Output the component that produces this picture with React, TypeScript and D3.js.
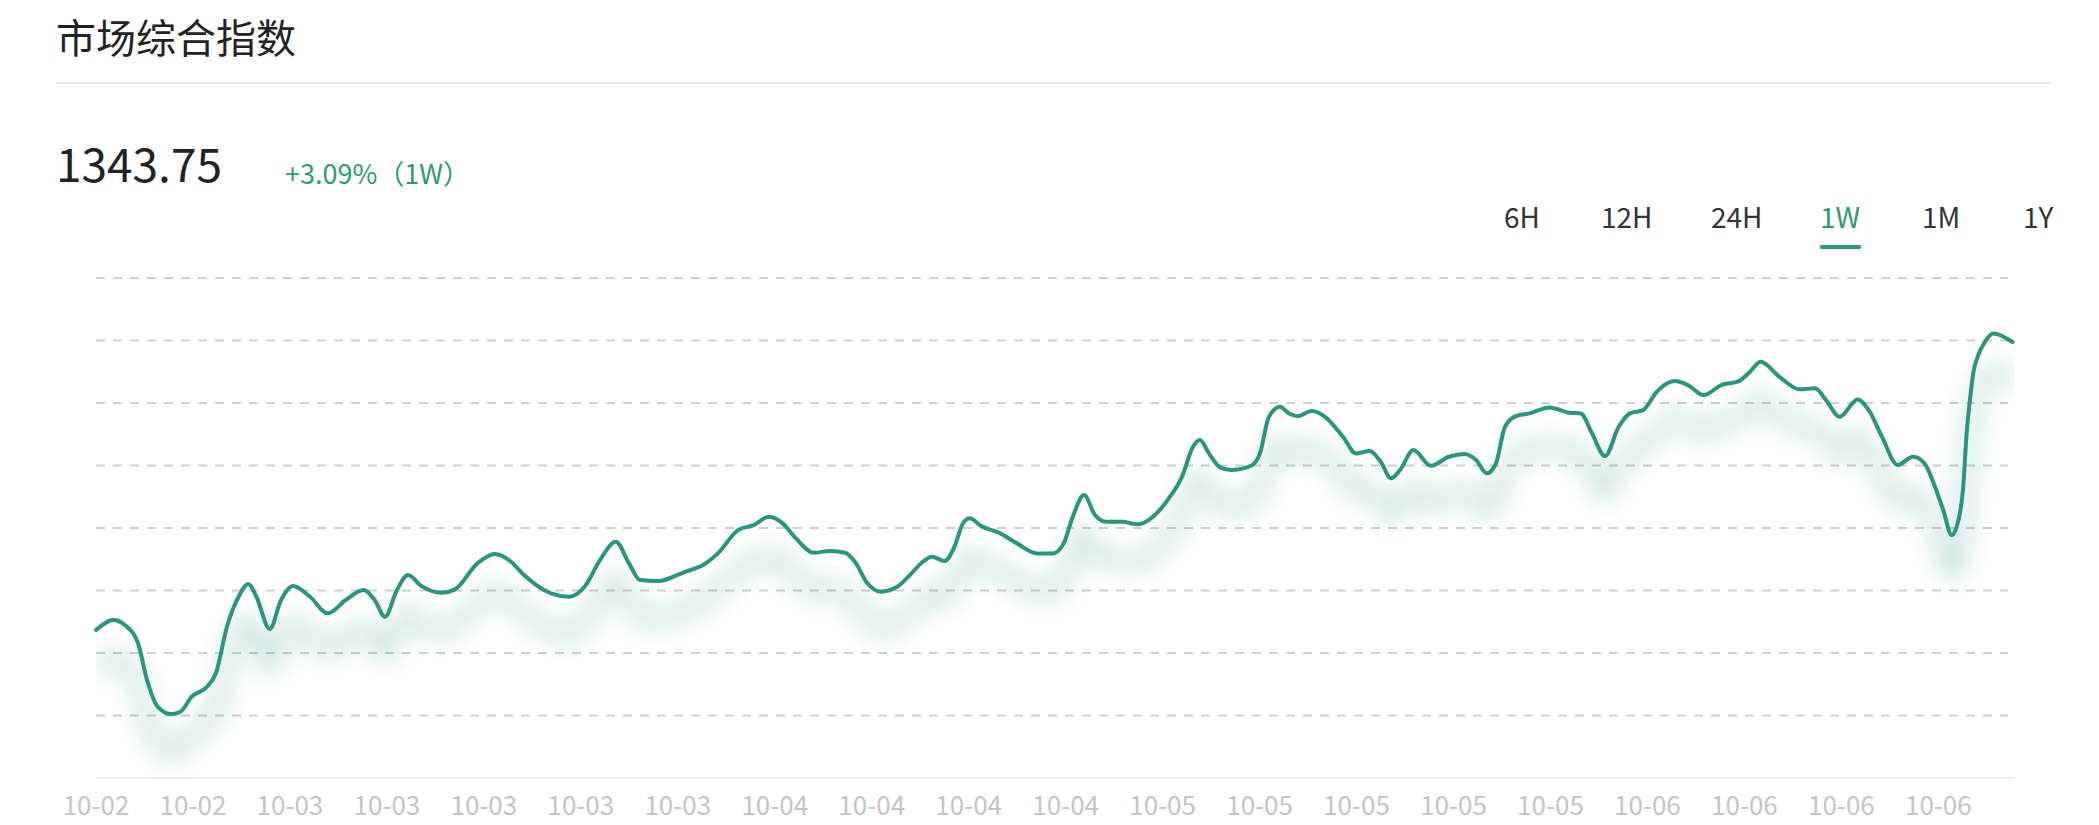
import React from "react";
import * as d3 from "d3";

// ---- data ----
const hours = [
  0, 1.54, 2.52, 3.68, 4.47, 5.43, 6.63, 7.41, 8.39, 9.73, 10.52, 11.48, 12.5, 13.36, 14.06, 15.23,
  16.22, 17.27, 18.76, 20.33, 21.89, 23.46, 24.43, 25.33, 26.38, 27.35, 28.54, 30.3, 31.47, 33.43,
  34.98, 36.38, 37.52, 39.88, 41.46, 42.83, 44.18, 45.56, 46.72, 47.69, 49.26, 51.63, 53.21, 54.51,
  56.28, 57.64, 58.99, 60.19, 61.36, 62.92, 64.3, 65.66, 66.62, 67.62, 68.79, 70.16, 71.34, 72.49,
  73.28, 74.39, 75.25, 76, 76.61, 77.58, 79.16, 80.73, 82.49, 83.86, 84.83, 85.62, 86.61, 87.57,
  88.53, 89.94, 91.3, 92.48, 94.04, 95.2, 96.16, 96.77, 97.56, 98.53, 99.49, 101.25, 102.03, 102.82,
  103.79, 104.58, 105.37, 106.56, 107.73, 109.31, 110.45, 111.64, 112.62, 113.52, 114.31, 115.48,
  117.02, 118.6, 119.98, 120.97, 121.93, 122.72, 123.51, 124.47, 125.66, 127.42, 129.17, 130.15,
  131.14, 132.28, 133.48, 134.47, 135.61, 136.81, 138.38, 139.55, 140.92, 142.48, 144.02, 144.99,
  145.92, 147.57, 149.33, 150.68, 151.65, 152.85, 154.42, 155.4, 156.56, 157.94, 159.27, 160.29,
  161.2, 161.93, 162.67, 163.39, 163.68, 163.98, 164.27, 164.56, 165, 165.59, 166.31, 168,
];
const values = [
  1303.48, 1304.88, 1304.18, 1301.67, 1296.5, 1292.72, 1291.74, 1292.07, 1294.16, 1295.56, 1297.48,
  1303.95, 1308.14, 1309.91, 1308.14, 1303.62, 1307.68, 1309.63, 1308.14, 1305.82, 1307.68, 1309.08,
  1307.68, 1305.34, 1309.08, 1311.17, 1309.63, 1308.7, 1309.17, 1312.81, 1314.11, 1313.03, 1311.17,
  1308.61, 1308.14, 1309.54, 1313.27, 1315.83, 1312.81, 1310.47, 1310.33, 1311.63, 1312.57, 1314.2,
  1317.46, 1318.16, 1319.32, 1318.4, 1316.3, 1314.29, 1314.53, 1314.29, 1312.81, 1310.01, 1308.84,
  1309.45, 1311.17, 1313.03, 1313.73, 1313.13, 1315.13, 1318.4, 1319.1, 1318.02, 1317.08, 1315.6,
  1314.2, 1314.2, 1315.6, 1319.32, 1322.35, 1319.56, 1318.62, 1318.62, 1318.26, 1319.1, 1321.89,
  1324.91, 1329.1, 1330.04, 1328.18, 1326.22, 1325.85, 1326.45, 1328.18, 1333.3, 1334.69, 1333.77,
  1333.39, 1334.09, 1333.3, 1330.5, 1328.18, 1328.5, 1327.01, 1324.69, 1325.85, 1328.64, 1326.45,
  1327.71, 1328.08, 1327.24, 1325.39, 1326.78, 1331.9, 1333.39, 1333.77, 1334.61, 1333.86, 1333.77,
  1330.98, 1327.8, 1331.9, 1333.77, 1334.23, 1336.79, 1338.29, 1337.73, 1336.33, 1337.73, 1338.29,
  1339.59, 1340.98, 1338.89, 1337.13, 1337.27, 1335.63, 1333.3, 1335.73, 1334.23, 1330.5, 1326.55,
  1327.71, 1326.78, 1323.51, 1320.26, 1316.76, 1319.84, 1323.51, 1331.02, 1335.63, 1339.4, 1341.92,
  1343.78, 1344.95, 1343.75,
];
const xLabels = [
  "10-02", "10-02", "10-03", "10-03", "10-03", "10-03", "10-03", "10-04", "10-04", "10-04",
  "10-04", "10-05", "10-05", "10-05", "10-05", "10-05", "10-06", "10-06", "10-06", "10-06",
];
const labelStepHours = 8.5;
const ranges = ["6H", "12H", "24H", "1W", "1M", "1Y"];
const activeRange = "1W";
const title = "市场综合指数";
const lastPrice = "1343.75";
const change = "+3.09%（1W）";
const yDomain: [number, number] = [1282.8, 1352.7];
const gridCount = 8;

// ---- layout ----
const W = 2099;
const H = 825;
const plot = { left: 96, right: 2012.5, top: 278, bottom: 778 };
const gridRight = 2008;
const rangeX = [1504, 1601, 1711, 1820, 1922, 2023];
const GREEN = "#28967c";
const TEXT_GREEN = "#2b9a70";
const FONT = "'Noto Sans CJK SC', 'Noto Sans', sans-serif";

export default function App() {
  const x = d3.scaleLinear().domain([0, 168]).range([plot.left, plot.right]);
  const y = d3.scaleLinear().domain(yDomain).range([plot.bottom, plot.top]);
  const data = hours.map((h, i) => ({ h, v: values[i] }));
  const line = d3
    .line<{ h: number; v: number }>()
    .x((d) => x(d.h))
    .y((d) => y(d.v))
    .curve(d3.curveMonotoneX);
  const path = line(data) || "";
  const gridVals = d3.range(1, gridCount + 1).map((i) => yDomain[0] + ((yDomain[1] - yDomain[0]) * i) / gridCount);

  return (
    <svg
      width={W}
      height={H}
      style={{ position: "absolute", left: 0, top: 0, display: "block", background: "#fff" }}
      fontFamily={FONT}
    >
      <defs>
        <filter id="glow" x="-10%" y="-80%" width="120%" height="260%">
          <feGaussianBlur in="SourceGraphic" stdDeviation="13" />
        </filter>
        <clipPath id="plotClip">
          <rect x={plot.left} y={0} width={plot.right - plot.left + 2} height={H} />
        </clipPath>
      </defs>

      <text x={56} y={53} fontSize={40} fill="#222">{title}</text>
      <line x1={56} x2={2051} y1={83} y2={83} stroke="#e8e8e8" strokeWidth={2} />

      <text x={56} y={182} fontSize={46} fill="#222">{lastPrice}</text>
      <text x={285} y={184} fontSize={27} fill={TEXT_GREEN}>{change}</text>

      {ranges.map((r, i) => (
        <text key={r} x={rangeX[i]} y={228} fontSize={28} fill={r === activeRange ? TEXT_GREEN : "#333"}>
          {r}
        </text>
      ))}
      {ranges.map((r, i) =>
        r === activeRange ? (
          <rect key={"u" + r} x={rangeX[i]} y={245} width={41} height={4} rx={1.5} fill={TEXT_GREEN} />
        ) : null
      )}

      {gridVals.map((g, i) => (
        <line
          key={i}
          x1={plot.left}
          x2={gridRight}
          y1={y(g)}
          y2={y(g)}
          stroke="#cfcfcf"
          strokeWidth={2}
          strokeDasharray="9 8"
        />
      ))}
      <line x1={plot.left} x2={2014} y1={plot.bottom} y2={plot.bottom} stroke="#ececec" strokeWidth={2} />

      <g clipPath="url(#plotClip)">
        <path
          d={path}
          fill="none"
          stroke={GREEN}
          strokeWidth={4}
          filter="url(#glow)"
          opacity={0.9}
          transform="translate(0,38)"
        />
      </g>
      <path d={path} fill="none" stroke={GREEN} strokeWidth={4} strokeLinejoin="round" strokeLinecap="round" />

      {xLabels.map((l, i) => (
        <text
          key={i}
          x={x(i * labelStepHours)}
          y={815}
          fontSize={26}
          textAnchor="middle"
          fill="#c4c4c4"
        >
          {l}
        </text>
      ))}
    </svg>
  );
}
